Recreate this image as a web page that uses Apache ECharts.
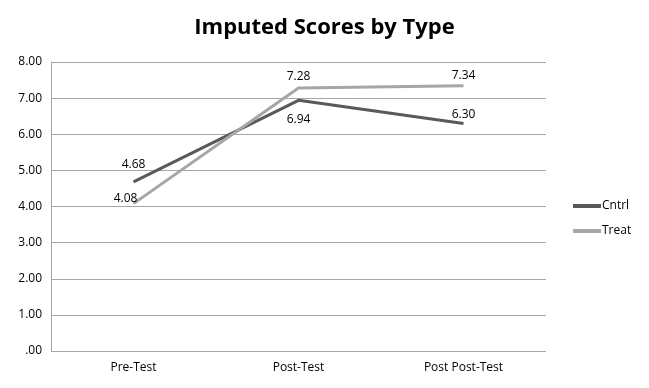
<!DOCTYPE html>
<html><head><meta charset="utf-8">
<script src="https://cdn.jsdelivr.net/npm/echarts@6/dist/echarts.min.js"></script>
<style>html,body{margin:0;padding:0;background:#fff}#c{width:649px;height:388px}</style>
</head><body><div id="c"></div>
<script>
var categories = ['Pre-Test', 'Post-Test', 'Post Post-Test'];
var cntrl = [4.68, 6.94, 6.30];
var treat = [4.08, 7.28, 7.34];
var yTicks = [0, 1, 2, 3, 4, 5, 6, 7, 8];

var cntrlPos = ['top', 'bottom', 'top'];
var treatPos = ['top', 'top', 'top'];
var font = 'Open Sans, Liberation Sans, sans-serif';
function mk(vals, pos, offs) {
  return vals.map(function (v, i) {
    return { value: v, label: { position: pos[i], offset: offs[i] } };
  });
}
var chart = echarts.init(document.getElementById('c'));
chart.setOption({
  animation: false,
  title: { text: 'Imputed Scores by Type', left: 'center', top: 12,
    textStyle: { fontFamily: font, fontSize: 22, fontWeight: 'bold', color: '#000' } },
  grid: { left: 51, right: 103, top: 62, bottom: 37 },
  legend: { orient: 'vertical', left: 568, top: 195, itemGap: 13, itemWidth: 28, itemHeight: 4,
    icon: 'rect', textStyle: { fontFamily: font, fontSize: 12, color: '#000', padding: [0,0,0,-4] },
    data: ['Cntrl', 'Treat'] },
  xAxis: { type: 'category', data: categories, boundaryGap: true,
    axisLine: { show: false }, axisTick: { show: false },
    axisLabel: { fontFamily: font, fontSize: 12, color: '#000', margin: 11 } },
  yAxis: { type: 'value', min: 0, max: 8, interval: 1,
    axisLine: { show: true, lineStyle: { color: '#a6a6a6' } }, axisTick: { show: false },
    splitLine: { lineStyle: { color: '#a6a6a6', width: 1 } },
    axisLabel: { fontFamily: font, fontSize: 12, color: '#000', margin: 9,
      formatter: function (v) { return v === 0 ? '.00' : v.toFixed(2); } } },
  series: [
    { name: 'Cntrl', type: 'line', data: mk(cntrl, cntrlPos, [[0,-6],[0,8],[0,2]]),
      symbol: 'circle', symbolSize: 0.1, showSymbol: true,
      lineStyle: { color: '#595959', width: 3 }, itemStyle: { color: '#595959' },
      label: { show: true, fontFamily: font, fontSize: 12, color: '#000', formatter: function (p) { return p.value.toFixed(2); } } },
    { name: 'Treat', type: 'line', data: mk(treat, treatPos, [[-8,6],[0,0],[0,1]]),
      symbol: 'circle', symbolSize: 0.1, showSymbol: true,
      lineStyle: { color: '#a6a6a6', width: 3 }, itemStyle: { color: '#a6a6a6' },
      label: { show: true, fontFamily: font, fontSize: 12, color: '#000', formatter: function (p) { return p.value.toFixed(2); } } }
  ]
});
</script></body></html>
